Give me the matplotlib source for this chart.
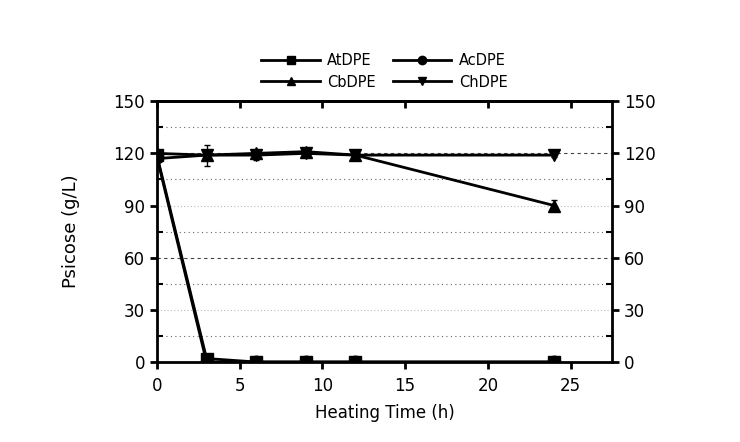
import matplotlib
matplotlib.use("Agg")
import matplotlib.pyplot as plt
from matplotlib.ticker import MultipleLocator
from matplotlib.lines import Line2D

time = [0, 3, 6, 9, 12, 24]
at_dpe = [119, 2, 0, 0, 0, 0]
ac_dpe = [118, 0, 0, 0, 0, 0]
cb_dpe = [120, 119, 120, 121, 119, 90]
ch_dpe = [117, 119, 119, 120, 119, 119]
cb_err = [1, 2, 2, 2, 1, 3]
ch_err = [1, 6, 3, 2, 1, 1]
names = ['AtDPE', 'AcDPE', 'CbDPE', 'ChDPE']
markers = ['s', 'o', '^', 'v']

fig = plt.figure(figsize=(7.4, 4.42), dpi=100)
ax = fig.add_axes([0.212, 0.181, 0.615, 0.590])

kw = dict(color='black', lw=2, ms=9, capsize=2, elinewidth=1)
ax.errorbar(time, at_dpe, marker=markers[0], **kw)
ax.errorbar(time, ac_dpe, marker=markers[1], **kw)
ax.errorbar(time, cb_dpe, yerr=cb_err, marker=markers[2], **kw)
ax.errorbar(time, ch_dpe, yerr=ch_err, marker=markers[3], **kw)

ax.set_xlim(0, 27.5)
ax.set_ylim(0, 150)
ax.xaxis.set_major_locator(MultipleLocator(5))
ax.yaxis.set_major_locator(MultipleLocator(30))
ax.yaxis.set_minor_locator(MultipleLocator(15))
for y in [15, 45, 75, 105, 135]:
    ax.axhline(y, color='#666666', lw=0.8, ls=(0, (1, 3)), zorder=0)
for y in [30, 90]:
    ax.axhline(y, color='#bbbbbb', lw=0.8, ls=(0, (1, 2)), zorder=0)
for y in [60, 120]:
    ax.axhline(y, color='#444444', lw=0.8, ls=(0, (3, 3)), zorder=0)

for s in ax.spines.values():
    s.set_linewidth(2)
ax.tick_params(axis='x', which='major', direction='out', length=5, width=2,
               labelsize=12, top=False, pad=6)
ax.tick_params(axis='y', which='major', direction='out', length=5, width=2,
               labelsize=12, left=True, right=True, labelright=True)
ax.tick_params(axis='y', which='minor', direction='in', length=4, width=1.5,
               left=True, right=True)
secx = ax.secondary_xaxis('top')
secx.xaxis.set_major_locator(MultipleLocator(5))
secx.tick_params(direction='in', length=5, width=2, labeltop=False)
secx.spines['top'].set_linewidth(2)

ax.set_xlabel('Heating Time (h)', fontsize=12, labelpad=6)
ax.set_ylabel('Psicose (g/L)', fontsize=13, labelpad=24)

handles = [Line2D([], [], color='black', lw=2, marker=m, ms=6) for m in markers]
order = [0, 2, 1, 3]
ax.legend([handles[i] for i in order], [names[i] for i in order], ncol=2,
          loc='lower center', bbox_to_anchor=(0.5, 1.0), frameon=False,
          fontsize=10.5, handlelength=4.0, columnspacing=1.2, labelspacing=0.45,
          handletextpad=0.5, borderaxespad=0.4)

fig.savefig('out.png', dpi=100)
